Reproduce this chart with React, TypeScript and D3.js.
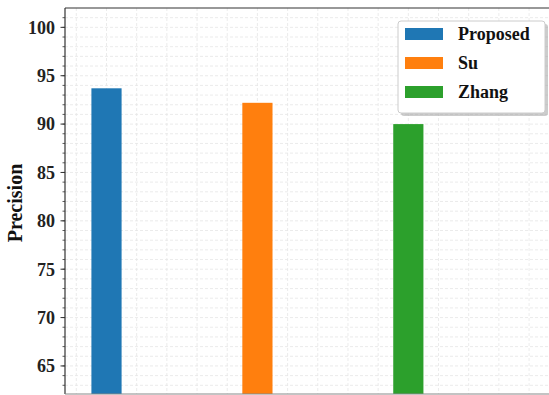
import React from "react";
import * as d3 from "d3";

const categories = ["Proposed", "Su", "Zhang"];
const precision = [93.7, 92.2, 90.0];
const colors = ["#1f77b4", "#ff7f0e", "#2ca02c"];
const yMajorTicks = [65, 70, 75, 80, 85, 90, 95, 100];

const W = 549;
const H = 395;
const left = 65;
const top = 8;
const bottom = 394;
const right = 600;

export default function App() {
  const x = d3.scaleLinear().domain([-0.275, 3.27]).range([left, right]);
  const y = d3.scaleLinear().domain([62.1, 102]).range([bottom, top]);
  const barW = x(0.2) - x(0);

  const yMinor = d3.range(63, 102, 1);
  const xMinor = d3.range(-0.2, 3.2, 0.2);
  const font = "'Liberation Serif', 'Times New Roman', serif";

  return (
    <svg
      width={W}
      height={H}
      style={{ position: "absolute", left: 0, top: 0, background: "#fff" }}
    >
      <defs>
        <clipPath id="plot">
          <rect x={left} y={top} width={right - left} height={bottom - top} />
        </clipPath>
      </defs>
      <g clipPath="url(#plot)">
        {yMinor.map((v) => (
          <line
            key={"gy" + v}
            x1={left}
            x2={right}
            y1={y(v)}
            y2={y(v)}
            stroke="#e6e6e6"
            strokeWidth={0.8}
            strokeDasharray="3,2"
          />
        ))}
        {xMinor.map((v) => (
          <line
            key={"gx" + v.toFixed(1)}
            x1={x(v)}
            x2={x(v)}
            y1={top}
            y2={bottom}
            stroke="#e6e6e6"
            strokeWidth={0.8}
            strokeDasharray="3,2"
          />
        ))}
        {categories.map((c, i) => (
          <rect
            key={c}
            x={x(i) - barW / 2}
            y={y(precision[i])}
            width={barW}
            height={bottom - y(precision[i])}
            fill={colors[i]}
          />
        ))}
      </g>
      {/* spines */}
      <line x1={left} x2={left} y1={top} y2={bottom} stroke="#333" strokeWidth={1.2} />
      <line x1={left} x2={W} y1={top} y2={top} stroke="#333" strokeWidth={1.2} />
      <line x1={left} x2={W} y1={bottom} y2={bottom} stroke="#888" strokeWidth={1.2} />
      {/* y ticks */}
      {yMinor.map((v) => (
        <line
          key={"mt" + v}
          x1={left - 2.5}
          x2={left}
          y1={y(v)}
          y2={y(v)}
          stroke="#333"
          strokeWidth={0.8}
        />
      ))}
      {yMajorTicks.map((v) => (
        <g key={"t" + v}>
          <line x1={left - 4.5} x2={left} y1={y(v)} y2={y(v)} stroke="#333" strokeWidth={1} />
          <text
            x={left - 10}
            y={y(v)}
            dy="0.35em"
            textAnchor="end"
            fontFamily={font}
            fontWeight="bold"
            fontSize={18}
            fill="#222"
          >
            {v}
          </text>
        </g>
      ))}
      <text
        transform={`translate(22, 203) rotate(-90)`}
        textAnchor="middle"
        fontFamily={font}
        fontWeight="bold"
        fontSize={20}
        fill="#111"
      >
        Precision
      </text>
      {/* legend */}
      <g transform="translate(398, 21)">
        <rect x={3} y={3} width={147} height={92} rx={3} fill="#999" opacity={0.5} />
        <rect x={0} y={0} width={147} height={92} rx={3} fill="#fff" stroke="#ccc" strokeWidth={1} />
        {categories.map((c, i) => (
          <g key={"l" + c} transform={`translate(0, ${13 + i * 29})`}>
            <rect x={7} y={-6} width={38} height={12} fill={colors[i]} />
            <text
              x={60}
              y={0}
              dy="0.35em"
              fontFamily={font}
              fontWeight="bold"
              fontSize={18}
              fill="#111"
            >
              {c}
            </text>
          </g>
        ))}
      </g>
    </svg>
  );
}
